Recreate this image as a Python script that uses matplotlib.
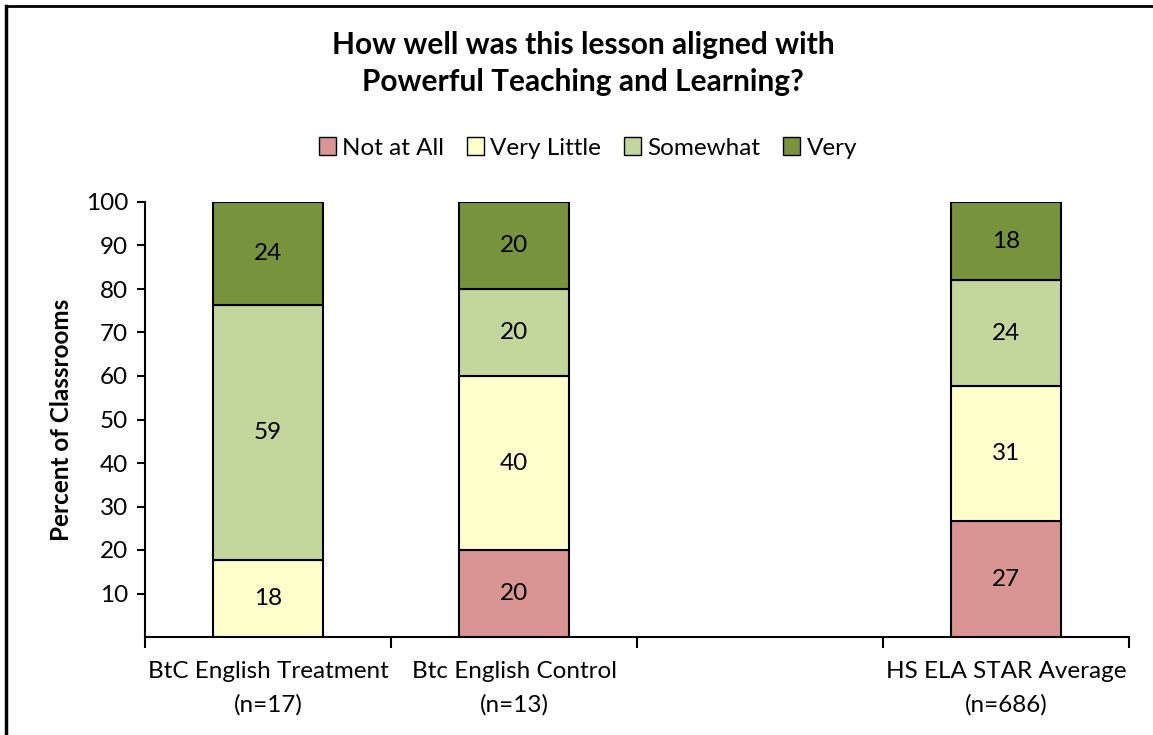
import matplotlib
matplotlib.use("Agg")
import matplotlib.pyplot as plt
from matplotlib.lines import Line2D
from matplotlib.patches import Patch
import numpy as np

categories = ["BtC English Treatment\n(n=17)", "Btc English Control\n(n=13)", "", "HS ELA STAR Average\n(n=686)"]
series_names = ["Not at All", "Very Little", "Somewhat", "Very"]
not_at_all = [0.0, 20.0, 0.0, 26.6]
very_little = [17.6, 40.0, 0.0, 31.0]
somewhat = [58.8, 20.0, 0.0, 24.4]
very = [23.6, 20.0, 0.0, 18.0]
colors = ["#D99594", "#FFFFCC", "#C3D69B", "#77933C"]
yticks = [10, 20, 30, 40, 50, 60, 70, 80, 90, 100]
title = "How well was this lesson aligned with\nPowerful Teaching and Learning?"
ylabel = "Percent of Classrooms"

plt.rcParams['font.family'] = ['Lato', 'DejaVu Sans']
FS = 17.5

fig = plt.figure(figsize=(11.53, 7.35), dpi=100)
ax = fig.add_axes([145/1153, 1-637/735, (1129-145)/1153, (637-202)/735])

x = np.arange(len(categories))
bottom = np.zeros(len(categories))
width = 0.445
for name, vals, col in zip(series_names, [not_at_all, very_little, somewhat, very], colors):
    vals = np.array(vals)
    mask = vals > 0
    ax.bar(x[mask], vals[mask], width=width, bottom=bottom[mask], color=col,
           edgecolor="black", linewidth=1.5, zorder=3)
    for xi, v, b in zip(x[mask], vals[mask], bottom[mask]):
        ax.text(xi, b + v/2, f"{v:.0f}", ha="center", va="center", fontsize=FS, zorder=4)
    bottom = bottom + vals

ax.set_xlim(-0.5, len(categories) - 0.5)
ax.set_ylim(0, 100)
ax.set_yticks(yticks)
ax.set_yticklabels([str(t) for t in yticks], fontsize=FS)
ax.tick_params(axis="y", direction="out", length=6, width=1.5, pad=6)

# category boundaries as ticks
ax.set_xticks(np.arange(len(categories) + 1) - 0.5)
ax.set_xticklabels([])
ax.tick_params(axis="x", direction="out", length=8, width=1.5)
for xi, c in zip(x, categories):
    if c:
        ax.text(xi, -0.055, c, transform=ax.get_xaxis_transform(), ha="center", va="top",
                fontsize=FS, linespacing=1.7)

for s in ["top", "right"]:
    ax.spines[s].set_visible(False)
for s in ["left", "bottom"]:
    ax.spines[s].set_linewidth(1.5)

ax.set_ylabel(ylabel, fontsize=FS, fontweight="bold", labelpad=9)

fig.text(583/1153, 1-63.5/735, title, ha="center", va="center", fontsize=21.5,
         fontweight="bold", linespacing=1.4)

handles = [Patch(facecolor=c, edgecolor="black", linewidth=1.0) for c in colors]
fig.legend(handles, series_names, loc="center", bbox_to_anchor=(588/1153, 1-148/735),
           ncol=4, frameon=False, fontsize=FS, handlelength=0.7, handleheight=0.7,
           handletextpad=0.25, columnspacing=0.95)

# figure frame (left and top only)
fig.add_artist(Line2D([6/1153, 6/1153], [0, 1-6/735], transform=fig.transFigure, color="black", linewidth=2.5))
fig.add_artist(Line2D([6/1153, 1], [1-6/735, 1-6/735], transform=fig.transFigure, color="black", linewidth=2.0))

fig.savefig("out.png", dpi=100, facecolor="white")
